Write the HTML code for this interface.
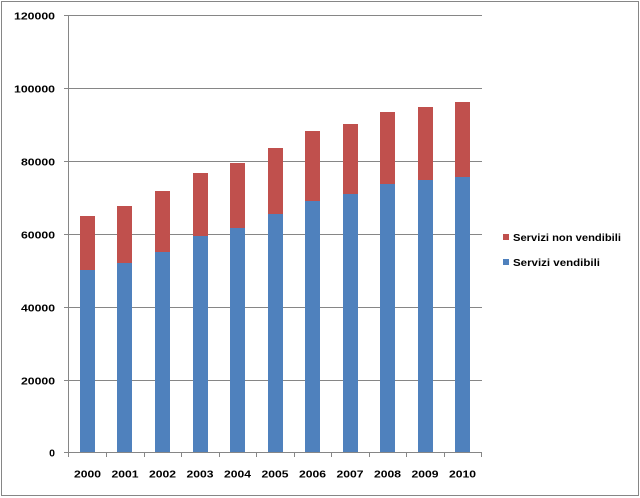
<!DOCTYPE html>
<html>
<head>
<meta charset="utf-8">
<style>
html,body{margin:0;padding:0;background:#fff;}
svg{display:block;}
text{font-family:"Liberation Sans",Arial,sans-serif;font-weight:bold;fill:#000;}
</style>
</head>
<body>
<svg width="640" height="498" viewBox="0 0 640 498" xmlns="http://www.w3.org/2000/svg">
<rect x="0" y="0" width="640" height="498" fill="#fff"/>
<rect x="1.5" y="1.5" width="637" height="494" fill="none" stroke="#868686" stroke-width="1"/>

<!-- gridlines -->
<g stroke="#868686" stroke-width="1">
<line x1="64" y1="15.5" x2="482" y2="15.5"/>
<line x1="64" y1="88.5" x2="482" y2="88.5"/>
<line x1="64" y1="161.5" x2="482" y2="161.5"/>
<line x1="64" y1="234.5" x2="482" y2="234.5"/>
<line x1="64" y1="307.5" x2="482" y2="307.5"/>
<line x1="64" y1="380.5" x2="482" y2="380.5"/>
</g>

<!-- bars -->
<g>
<rect x="80" y="216" width="15" height="54" fill="#C0504D"/>
<rect x="80" y="270" width="15" height="182" fill="#4F81BD"/>
<rect x="117" y="206" width="15" height="57" fill="#C0504D"/>
<rect x="117" y="263" width="15" height="189" fill="#4F81BD"/>
<rect x="155" y="191" width="15" height="61" fill="#C0504D"/>
<rect x="155" y="252" width="15" height="200" fill="#4F81BD"/>
<rect x="193" y="173" width="15" height="63" fill="#C0504D"/>
<rect x="193" y="236" width="15" height="216" fill="#4F81BD"/>
<rect x="230" y="163" width="15" height="65" fill="#C0504D"/>
<rect x="230" y="228" width="15" height="224" fill="#4F81BD"/>
<rect x="268" y="148" width="15" height="66" fill="#C0504D"/>
<rect x="268" y="214" width="15" height="238" fill="#4F81BD"/>
<rect x="305" y="131" width="15" height="70" fill="#C0504D"/>
<rect x="305" y="201" width="15" height="251" fill="#4F81BD"/>
<rect x="343" y="124" width="15" height="70" fill="#C0504D"/>
<rect x="343" y="194" width="15" height="258" fill="#4F81BD"/>
<rect x="380" y="112" width="15" height="72" fill="#C0504D"/>
<rect x="380" y="184" width="15" height="268" fill="#4F81BD"/>
<rect x="418" y="107" width="15" height="73" fill="#C0504D"/>
<rect x="418" y="180" width="15" height="272" fill="#4F81BD"/>
<rect x="455" y="102" width="15" height="75" fill="#C0504D"/>
<rect x="455" y="177" width="15" height="275" fill="#4F81BD"/>
</g>

<!-- axes -->
<g stroke="#868686" stroke-width="1">
<line x1="68.5" y1="15" x2="68.5" y2="457"/>
<line x1="64" y1="452.5" x2="482" y2="452.5"/>
<line x1="106.5" y1="452" x2="106.5" y2="457"/>
<line x1="144.5" y1="452" x2="144.5" y2="457"/>
<line x1="181.5" y1="452" x2="181.5" y2="457"/>
<line x1="219.5" y1="452" x2="219.5" y2="457"/>
<line x1="256.5" y1="452" x2="256.5" y2="457"/>
<line x1="294.5" y1="452" x2="294.5" y2="457"/>
<line x1="331.5" y1="452" x2="331.5" y2="457"/>
<line x1="369.5" y1="452" x2="369.5" y2="457"/>
<line x1="406.5" y1="452" x2="406.5" y2="457"/>
<line x1="444.5" y1="452" x2="444.5" y2="457"/>
<line x1="481.5" y1="452" x2="481.5" y2="457"/>
</g>

<!-- y labels -->
<g font-size="10.5" text-anchor="end">
<text x="55" y="19.5" textLength="41" lengthAdjust="spacingAndGlyphs">120000</text>
<text x="55" y="92.5" textLength="41" lengthAdjust="spacingAndGlyphs">100000</text>
<text x="55" y="165.5" textLength="34" lengthAdjust="spacingAndGlyphs">80000</text>
<text x="55" y="238.5" textLength="34" lengthAdjust="spacingAndGlyphs">60000</text>
<text x="55" y="311.5" textLength="34" lengthAdjust="spacingAndGlyphs">40000</text>
<text x="55" y="384.5" textLength="34" lengthAdjust="spacingAndGlyphs">20000</text>
<text x="55" y="456.5">0</text>
</g>

<!-- x labels -->
<g font-size="10.5" text-anchor="middle">
<text x="87.5" y="477.5" textLength="27" lengthAdjust="spacingAndGlyphs">2000</text>
<text x="125" y="477.5" textLength="27" lengthAdjust="spacingAndGlyphs">2001</text>
<text x="162.5" y="477.5" textLength="27" lengthAdjust="spacingAndGlyphs">2002</text>
<text x="200" y="477.5" textLength="27" lengthAdjust="spacingAndGlyphs">2003</text>
<text x="237.5" y="477.5" textLength="27" lengthAdjust="spacingAndGlyphs">2004</text>
<text x="275" y="477.5" textLength="27" lengthAdjust="spacingAndGlyphs">2005</text>
<text x="312.5" y="477.5" textLength="27" lengthAdjust="spacingAndGlyphs">2006</text>
<text x="350" y="477.5" textLength="27" lengthAdjust="spacingAndGlyphs">2007</text>
<text x="387.5" y="477.5" textLength="27" lengthAdjust="spacingAndGlyphs">2008</text>
<text x="425" y="477.5" textLength="27" lengthAdjust="spacingAndGlyphs">2009</text>
<text x="462.5" y="477.5" textLength="27" lengthAdjust="spacingAndGlyphs">2010</text>
</g>

<!-- legend -->
<rect x="503" y="234" width="6" height="6" fill="#C0504D"/>
<text x="513" y="241" font-size="10.5" textLength="108" lengthAdjust="spacingAndGlyphs">Servizi non vendibili</text>
<rect x="503" y="259" width="6" height="6" fill="#4F81BD"/>
<text x="513" y="266" font-size="10.5" textLength="87" lengthAdjust="spacingAndGlyphs">Servizi vendibili</text>
</svg>
</body>
</html>
